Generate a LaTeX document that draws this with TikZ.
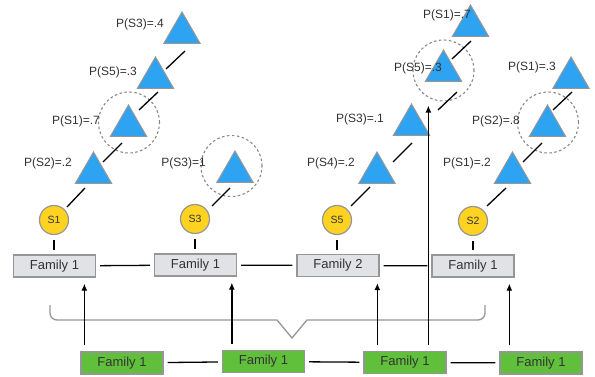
\documentclass[tikz,border=0pt]{standalone}
\usepackage{fontspec}
\setmainfont{Liberation Sans}
\usetikzlibrary{positioning,arrows.meta,shapes.geometric}
\definecolor{triblue}{RGB}{46,163,242}
\definecolor{stateyellow}{RGB}{254,210,32}
\definecolor{boxgrey}{RGB}{225,226,229}
\definecolor{boxgreen}{RGB}{96,192,60}
\definecolor{edgegrey}{RGB}{150,150,150}
\definecolor{dashgrey}{RGB}{135,135,135}
\definecolor{textdark}{RGB}{50,50,50}
\tikzset{
  famgrey/.style={draw=edgegrey, line width=1.3pt, fill=boxgrey, minimum width=82pt, minimum height=22pt, inner sep=0pt, text=textdark, font=\fontsize{13}{15}\selectfont},
  famgreen/.style={famgrey, fill=boxgreen, text=black!80},
  statenode/.style={circle, draw=edgegrey, line width=1.2pt, fill=stateyellow, minimum size=29pt, inner sep=0pt, text=textdark, font=\fontsize{10.5}{12}\selectfont},
  tri/.style={regular polygon, regular polygon sides=3, draw=edgegrey, line width=1pt, fill=triblue, minimum size=42pt, inner sep=0pt},
  focus/.style={circle, draw=dashgrey, dash pattern=on 2.5pt off 2.5pt, line width=1.1pt, minimum size=61pt, inner sep=0pt},
  plabel/.style={anchor=east, inner sep=0pt, text=textdark, font=\fontsize{12}{14}\selectfont},
  link/.style={line width=1.3pt},
  uparrow/.style={-{Latex[length=7pt,width=6pt]}, line width=1.3pt, shorten <=6pt, shorten >=6pt},
  bracketline/.style={draw=edgegrey, line width=1.3pt}
}
\begin{document}
\begin{tikzpicture}[x=1pt, y=-1pt]
  \useasboundingbox (0,0) rectangle (595,377);

  % family rows
  \node[famgrey] (f1) at (54.5,266) {Family 1};
  \node[famgrey] (f2) at (195.5,265) {Family 1};
  \node[famgrey] (f3) at (338,265.5) {Family 2};
  \node[famgrey] (f4) at (473,266) {Family 1};
  \node[famgreen] (g1) at (122,363) {Family 1};
  \node[famgreen] (g2) at (263.5,361.5) {Family 1};
  \node[famgreen] (g3) at (405,362.5) {Family 1};
  \node[famgreen] (g4) at (541,363) {Family 1};

  % states
  \node[statenode] (s1) at (54,220) {S1};
  \node[statenode] (s3) at (195,219) {S3};
  \node[statenode] (s5) at (337,220) {S5};
  \node[statenode] (s2) at (473,221) {S2};

  % triangles
  \node[tri] (ta1) at (93.5,173) {};
  \node[tri] (ta2) at (128.5,126) {};
  \node[tri] (ta3) at (155.5,78) {};
  \node[tri] (ta4) at (182,33) {};
  \node[tri] (tb1) at (235,172) {};
  \node[tri] (tc1) at (377,173) {};
  \node[tri] (tc2) at (411.5,125) {};
  \node[tri] (tc3) at (443.5,71) {};
  \node[tri] (tc4) at (470.5,26) {};
  \node[tri] (td1) at (512.5,173) {};
  \node[tri] (td2) at (547.5,126) {};
  \node[tri] (td3) at (571,78) {};

  % dashed circles
  \node[focus] (ca) at (129,122.5) {};
  \node[focus] (cb) at (231.5,166) {};
  \node[focus] (cc) at (443.5,70.5) {};
  \node[focus] (cd) at (548,122.5) {};

  % probabilities
  \node[plabel] (la1) at (72,163) {P(S2)=.2};
  \node[plabel] (la2) at (100,121) {P(S1)=.7};
  \node[plabel] (la3) at (137,72) {P(S5)=.3};
  \node[plabel] (la4) at (164,24) {P(S3)=.4};
  \node[plabel] (lb1) at (206,163) {P(S3)=1};
  \node[plabel] (lc1) at (355,163) {P(S4)=.2};
  \node[plabel] (lc2) at (384,119) {P(S3)=.1};
  \node[plabel] (lc3) at (442,68) {P(S5)=.3};
  \node[plabel] (lc4) at (471,15) {P(S1)=.7};
  \node[plabel] (ld1) at (491,163) {P(S1)=.2};
  \node[plabel] (ld2) at (520,121) {P(S2)=.8};
  \node[plabel] (ld3) at (556,67) {P(S1)=.3};

  % chains
  \draw[link] ([shift={(13,-13)}]s1.center) -- ([shift={(-8.5,15)}]ta1.center);
  \draw[link] ([shift={(9.5,-11)}]ta1.center) -- ([shift={(-6.5,17)}]ta2.center);
  \draw[link] ([shift={(10.5,-16)}]ta2.center) -- ([shift={(2.5,14)}]ta3.center);
  \draw[link] ([shift={(10.5,-9)}]ta3.center) -- ([shift={(3,18)}]ta4.center);
  \draw[link] ([shift={(17,-13)}]s3.center) -- ([shift={(-5,16)}]tb1.center);
  \draw[link] ([shift={(14,-14)}]s5.center) -- ([shift={(-7,14)}]tc1.center);
  \draw[link] ([shift={(16,-11)}]tc1.center) -- ([shift={(0.5,18)}]tc2.center);
  \draw[link] ([shift={(26.5,-15)}]tc2.center) -- ([shift={(13.5,21)}]tc3.center);
  \draw[link] ([shift={(8.5,-12)}]tc3.center) -- ([shift={(0.5,15)}]tc4.center);
  \draw[link] ([shift={(14,-15)}]s2.center) -- ([shift={(-6.5,15)}]td1.center);
  \draw[link] ([shift={(10.5,-11)}]td1.center) -- ([shift={(-5.5,17)}]td2.center);
  \draw[link] ([shift={(5.5,-16)}]td2.center) -- ([shift={(1,14)}]td3.center);

  % states to families
  \draw[link, shorten <=5pt, shorten >=4pt] (s1.south) -- (s1.south |- f1.north);
  \draw[link, shorten <=5pt, shorten >=4pt] (s3.south) -- (s3.south |- f2.north);
  \draw[link, shorten <=5pt, shorten >=4pt] (s5.south) -- (s5.south |- f3.north);
  \draw[link, shorten <=5pt, shorten >=4pt] (s2.south) -- (s2.south |- f4.north);

  % family links
  \draw[link, shorten <=4pt, shorten >=4pt] (f1) -- (f2);
  \draw[link, shorten <=4pt, shorten >=4pt] (f2) -- (f3);
  \draw[link, shorten <=4pt, shorten >=4pt] (f3) -- (f4);
  \draw[link, shorten <=4pt, shorten >=4pt] (g1) -- (g2);
  \draw[link, shorten <=4pt, shorten >=4pt] (g2) -- (g3);
  \draw[link, shorten <=4pt, shorten >=4pt] (g3) -- (g4);

  % bracket
  \draw[bracketline] (50,305) [rounded corners=7pt] -- (50,320) -- (200,320) [sharp corners] -- (277,320) -- (292,338) -- (307,320) -- (400,320) [rounded corners=7pt] -- (485,320) -- (485,305);

  % arrows up
  \coordinate (a1) at ([xshift=4pt]g1.north west);
  \coordinate (a2) at ([xshift=10pt]g2.north west);
  \coordinate (a3) at ([xshift=14pt]g3.north west);
  \coordinate (a4) at ([xshift=10pt]g4.north west);
  \coordinate (a5) at ([xshift=65pt]g3.north west);
  \draw[uparrow] (a1) -- (a1 |- f1.south);
  \draw[uparrow] (a2) -- (a2 |- f2.south);
  \draw[uparrow] (a3) -- (a3 |- f3.south);
  \draw[uparrow] (a4) -- (a4 |- f4.south);
  \draw[uparrow, shorten >=4pt] (a5) -- (a5 |- cc.south);
\end{tikzpicture}
\end{document}
